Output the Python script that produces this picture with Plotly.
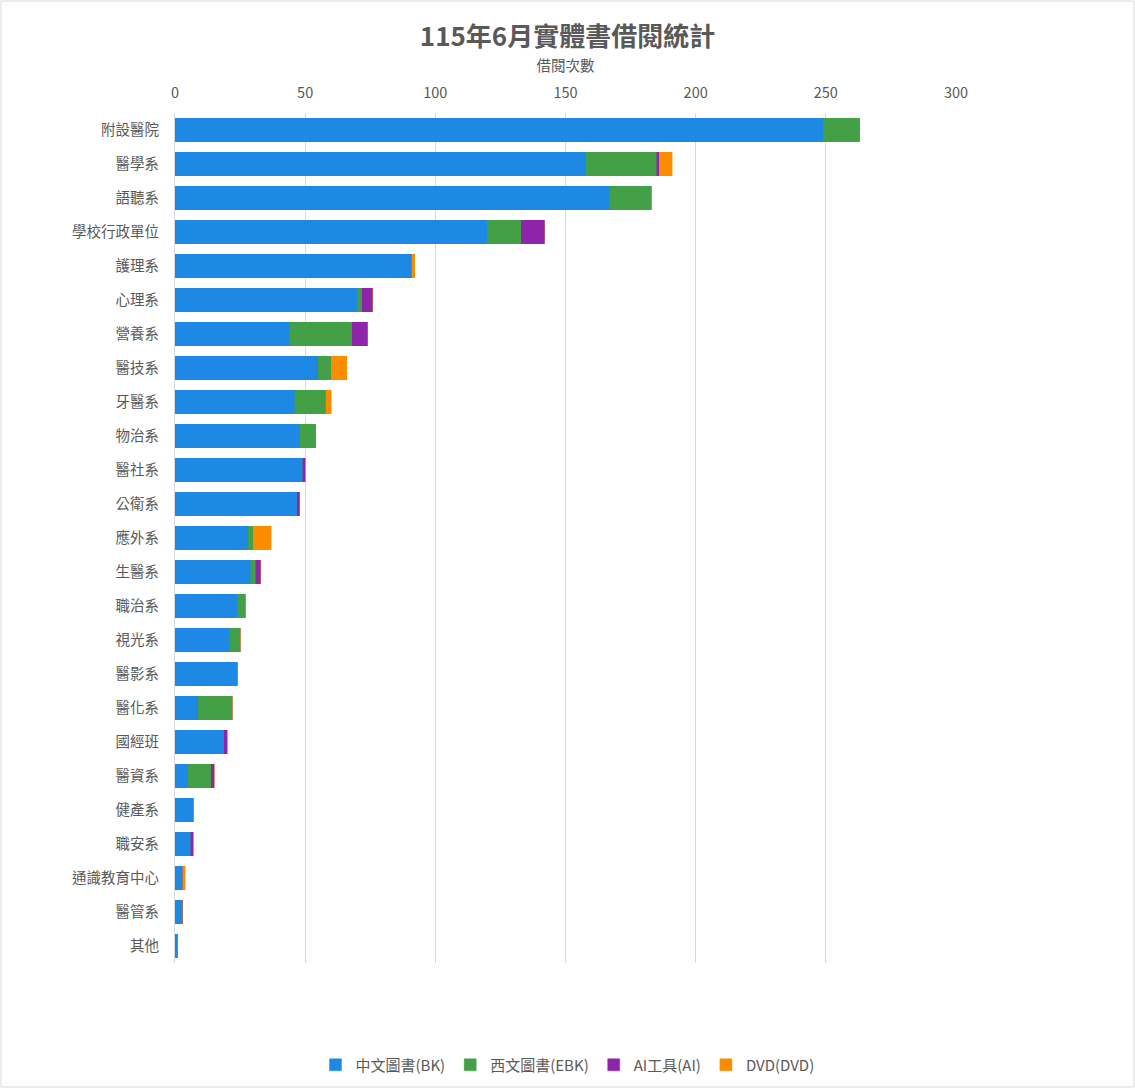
import plotly.graph_objects as go

categories = ["附設醫院", "醫學系", "語聽系", "學校行政單位", "護理系", "心理系", "營養系", "醫技系",
              "牙醫系", "物治系", "醫社系", "公衛系", "應外系", "生醫系", "職治系", "視光系", "醫影系",
              "醫化系", "國經班", "醫資系", "健產系", "職安系", "通識教育中心", "醫管系", "其他"]
bk  = [249, 158, 167, 120, 91, 70, 44, 55, 46, 48, 49, 47, 28, 29, 24, 21, 24, 9, 19, 5, 7, 6, 3, 3, 1]
ebk = [14, 27, 16, 13, 0, 2, 24, 5, 12, 6, 0, 0, 2, 2, 3, 4, 0, 13, 0, 9, 0, 0, 0, 0, 0]
ai  = [0, 1, 0, 9, 0, 4, 6, 0, 0, 0, 1, 1, 0, 2, 0, 0, 0, 0, 1, 1, 0, 1, 0, 0, 0]
dvd = [0, 5, 0, 0, 1, 0, 0, 6, 2, 0, 0, 0, 7, 0, 0, 0, 0, 0, 0, 0, 0, 0, 1, 0, 0]
series_names = ["中文圖書(BK)", "西文圖書(EBK)", "AI工具(AI)", "DVD(DVD)"]
colors = ["#1E88E5", "#43A047", "#8E24AA", "#FB8C00"]
line_colors = ["rgba(30,136,229,0.45)", "rgba(67,160,71,0.45)", "rgba(142,36,170,0.45)", "rgba(251,140,0,0.45)"]

FONT = "Noto Sans CJK TC, Noto Sans, sans-serif"
fig = go.Figure()
for name, vals, c, lc in zip(series_names, [bk, ebk, ai, dvd], colors, line_colors):
    fig.add_trace(go.Bar(y=categories, x=vals, name=name, orientation="h",
                         marker=dict(color=c, line=dict(color=lc, width=1))))

W, H = 1135, 1088
L, R, T, B = 175, 179, 113, 125
pw = W - L - R
ph = H - T - B

fig.update_layout(
    width=W, height=H,
    barmode="stack", bargap=0.32,
    plot_bgcolor="white", paper_bgcolor="white",
    margin=dict(l=L, r=R, t=T, b=B, autoexpand=False),
    font=dict(family=FONT, color="#595959", size=14),
    title=dict(text="115年6月實體書借閱統計", x=0.5, xanchor="center", y=1 - 37 / H, yanchor="middle",
               font=dict(family=FONT, size=26, color="#595959", weight="bold")),
    xaxis=dict(side="top", range=[0, 300], dtick=50, showgrid=True, gridcolor="#d9d9d9",
               zeroline=False, ticks="", tickfont=dict(size=14.5, color="#595959"),
               ticklabelstandoff=11,
               title=dict(text="借閱次數", font=dict(size=14.5, color="#595959"), standoff=6)),
    yaxis=dict(autorange="reversed", showline=True, linecolor="#d9d9d9", ticks="",
               tickfont=dict(size=14.5, color="#595959"), ticklabelstandoff=12),
    legend=dict(orientation="h", x=(W / 2 - L) / pw, xanchor="center",
                y=-(1065 - (T + ph)) / ph, yanchor="middle", itemwidth=30,
                font=dict(size=15, color="#595959"), traceorder="normal"),
    shapes=[dict(type="rect", xref="paper", yref="paper",
                 x0=-(L - 1) / pw, x1=(W - 1 - L) / pw,
                 y0=-(B - 1) / ph, y1=1 + (T - 1) / ph,
                 line=dict(color="#d9d9d9", width=1), fillcolor="rgba(0,0,0,0)", layer="below")],
)

fig.write_html("out.html", config={"displayModeBar": False},
               post_script="document.body.style.margin='0';document.body.style.overflow='hidden';")
